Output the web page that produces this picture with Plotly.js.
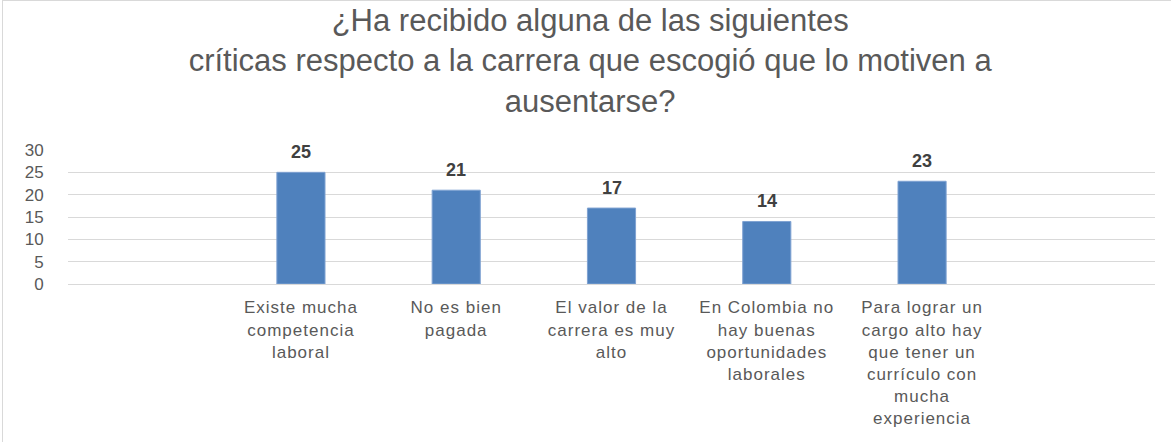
<!DOCTYPE html>
<html>
<head>
<meta charset="utf-8">
<script src="https://cdn.plot.ly/plotly-3.0.1.min.js"></script>
<style>
  html, body { margin: 0; padding: 0; background: #fff; }
  #wrap { position: relative; width: 1171px; height: 442px; }
  #chart { width: 1171px; height: 442px; }
  #frame { position: absolute; left: 2px; top: 0; width: 1169px; height: 442px;
           border-left: 1px solid #d9d9d9; border-top: 1px solid #d9d9d9;
           box-sizing: border-box; pointer-events: none; }
  .xtick text { letter-spacing: 1px; }
</style>
</head>
<body>
<div id="wrap">
  <div id="chart"></div>
  <div id="frame"></div>
</div>
<script>
const categories = [
  "Existe mucha<br>competencia<br>laboral",
  "No es bien<br>pagada",
  "El valor de la<br>carrera es muy<br>alto",
  "En Colombia no<br>hay buenas<br>oportunidades<br>laborales",
  "Para lograr un<br>cargo alto hay<br>que tener un<br>currículo con<br>mucha<br>experiencia"
];
const values = [25, 21, 17, 14, 23];
const yTicks = [0, 5, 10, 15, 20, 25, 30];
const titleText = "¿Ha recibido alguna de las siguientes<br>críticas respecto a la carrera que escogió que lo motiven a<br>ausentarse?";

const trace = {
  type: "bar",
  x: categories,
  y: values,
  marker: { color: "#4F81BD", line: { color: "#7FA2D2", width: 1 } },
  hoverinfo: "x+y"
};

const annotations = categories.map((c, i) => ({
  x: c, y: values[i], xref: "x", yref: "y",
  text: String(values[i]),
  showarrow: false, yanchor: "middle", yshift: 20,
  font: { family: "Liberation Sans, Arial, sans-serif", size: 18, color: "#404040", weight: "bold" }
}));

const layout = {
  width: 1171, height: 442,
  margin: { l: 68, r: 16, t: 150, b: 158 },
  paper_bgcolor: "#ffffff", plot_bgcolor: "#ffffff",
  showlegend: false,
  bargap: 0.69,
  title: {
    text: titleText,
    font: { family: "Liberation Sans, Arial, sans-serif", size: 31, color: "#595959" },
    xref: "container", x: 0.504, xanchor: "center",
    yref: "container", y: 0.93, yanchor: "top"
  },
  xaxis: {
    type: "category",
    categoryorder: "array", categoryarray: categories,
    range: [-1.5, categories.length + 0.5],
    showgrid: false, zeroline: false, showline: false,
    ticks: "outside", ticklen: 8, tickcolor: "rgba(0,0,0,0)",
    tickangle: 0,
    tickfont: { family: "Liberation Sans, Arial, sans-serif", size: 17, color: "#595959" }
  },
  yaxis: {
    range: [0, 30],
    tickvals: yTicks, ticktext: yTicks.map(String),
    showgrid: true, gridcolor: "#d9d9d9", gridwidth: 1,
    zeroline: true, zerolinecolor: "#d9d9d9", zerolinewidth: 1,
    showline: false,
    ticks: "outside", ticklen: 20, tickcolor: "rgba(0,0,0,0)",
    tickfont: { family: "Liberation Sans, Arial, sans-serif", size: 17, color: "#595959" }
  },
  annotations: annotations
};

Plotly.newPlot("chart", [trace], layout, { displayModeBar: false, staticPlot: true });
</script>
</body>
</html>
